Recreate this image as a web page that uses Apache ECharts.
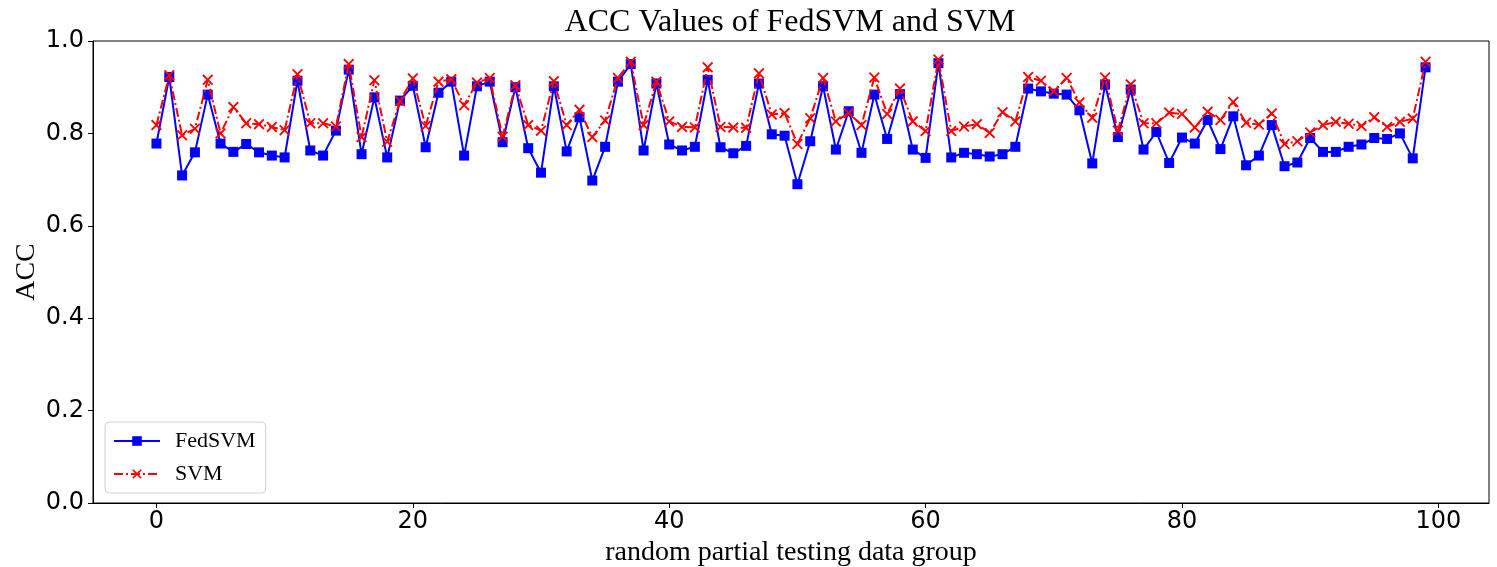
<!DOCTYPE html>
<html>
<head>
<meta charset="utf-8">
<script src="https://cdn.jsdelivr.net/npm/echarts@6/dist/echarts.min.js"></script>
<style>html,body{margin:0;padding:0;background:#fff;}#c{width:1497px;height:567px;}</style>
</head>
<body>
<div id="c"></div>
<script>
const xTicks = [0, 20, 40, 60, 80, 100];
const fedSVM = [0.778,0.922,0.709,0.759,0.884,0.778,0.760,0.777,0.759,0.752,
0.748,0.914,0.763,0.752,0.806,0.938,0.755,0.878,0.748,0.871,
0.903,0.770,0.888,0.912,0.752,0.902,0.912,0.781,0.900,0.768,
0.715,0.902,0.761,0.835,0.698,0.771,0.912,0.950,0.763,0.908,
0.776,0.763,0.771,0.916,0.770,0.757,0.773,0.908,0.798,0.795,
0.690,0.783,0.902,0.765,0.848,0.758,0.884,0.788,0.885,0.765,
0.747,0.952,0.748,0.758,0.755,0.750,0.755,0.771,0.897,0.891,
0.886,0.884,0.850,0.735,0.906,0.792,0.895,0.765,0.803,0.736,
0.791,0.778,0.829,0.766,0.837,0.731,0.752,0.818,0.729,0.737,
0.790,0.760,0.760,0.771,0.776,0.790,0.788,0.800,0.746,0.943];
const svm = [0.818,0.926,0.796,0.810,0.916,0.800,0.857,0.822,0.820,0.814,
0.807,0.928,0.822,0.822,0.815,0.950,0.792,0.915,0.782,0.870,
0.919,0.816,0.912,0.917,0.861,0.910,0.920,0.793,0.904,0.818,
0.806,0.913,0.818,0.851,0.792,0.828,0.920,0.955,0.818,0.912,
0.826,0.814,0.813,0.943,0.814,0.813,0.812,0.930,0.841,0.844,
0.777,0.833,0.920,0.826,0.844,0.818,0.921,0.842,0.897,0.826,
0.805,0.960,0.805,0.815,0.820,0.801,0.846,0.826,0.922,0.914,
0.891,0.920,0.867,0.834,0.921,0.806,0.906,0.822,0.822,0.845,
0.842,0.813,0.847,0.829,0.868,0.823,0.819,0.843,0.777,0.783,
0.802,0.818,0.825,0.821,0.816,0.835,0.814,0.825,0.832,0.955];

const serif = '"Liberation Serif", "Times New Roman", serif';
const sans = '"DejaVu Sans", sans-serif';
const xMark = 'path://M0,1.2 L1.2,0 L5,3.8 L8.8,0 L10,1.2 L6.2,5 L10,8.8 L8.8,10 L5,6.2 L1.2,10 L0,8.8 L3.8,5 Z';

const chart = echarts.init(document.getElementById('c'));
chart.setOption({
  animation: false,
  backgroundColor: '#fff',
  title: {
    text: 'ACC Values of FedSVM and SVM',
    left: 785, top: 2, textAlign: 'center',
    textStyle: {fontFamily: serif, fontSize: 32, fontWeight: 'normal', color: '#000'}
  },
  grid: {left: 93, right: 8, top: 41, bottom: 64, outerBoundsMode: 'none', containLabel: false,
         show: true, borderColor: '#000', borderWidth: 1, backgroundColor: 'transparent'},
  legend: {
    orient: 'vertical', left: 105, top: 422,
    padding: [8, 10, 8, 8], itemGap: 11, itemWidth: 46, itemHeight: 12,
    borderColor: '#d0d0d0', borderWidth: 1, borderRadius: 4,
    backgroundColor: 'rgba(255,255,255,0.8)',
    textStyle: {fontFamily: serif, fontSize: 22, color: '#000', padding: [0, 0, 0, 10]},
    data: ['FedSVM', 'SVM']
  },
  xAxis: {
    type: 'value', min: -4.95, max: 103.95,
    name: 'random partial testing data group', nameLocation: 'middle', nameGap: 36,
    nameTextStyle: {fontFamily: serif, fontSize: 28, color: '#000'},
    splitLine: {show: false},
    axisLine: {onZero: false, lineStyle: {color: '#000', width: 1}},
    axisTick: {show: true, length: 5, lineStyle: {color: '#000'}, customValues: xTicks},
    axisLabel: {fontFamily: sans, fontSize: 24, color: '#000', margin: 7, customValues: xTicks}
  },
  yAxis: {
    type: 'value', min: 0, max: 1, interval: 0.2,
    name: 'ACC', nameLocation: 'middle', nameGap: 52, nameMoveOverlap: false,
    nameTextStyle: {fontFamily: serif, fontSize: 28, color: '#000'},
    splitLine: {show: false},
    axisLine: {show: true, onZero: false, lineStyle: {color: '#000', width: 1}},
    axisTick: {show: true, length: 5, lineStyle: {color: '#000'}},
    axisLabel: {fontFamily: sans, fontSize: 24, color: '#000', margin: 9, formatter: v => v.toFixed(1)}
  },
  series: [
    {
      name: 'FedSVM', type: 'line',
      data: fedSVM.map((v, i) => [i, v]),
      symbol: 'rect', symbolSize: 10,
      lineStyle: {color: '#0000ff', width: 2},
      itemStyle: {color: '#0000ff'},
      z: 2
    },
    {
      name: 'SVM', type: 'line',
      data: svm.map((v, i) => [i, v]),
      symbol: xMark, symbolSize: 11,
      lineStyle: {color: '#ff0000', width: 2, type: [9, 3, 2, 3]},
      itemStyle: {color: '#ff0000'},
      z: 3
    }
  ]
});
</script>
</body>
</html>
